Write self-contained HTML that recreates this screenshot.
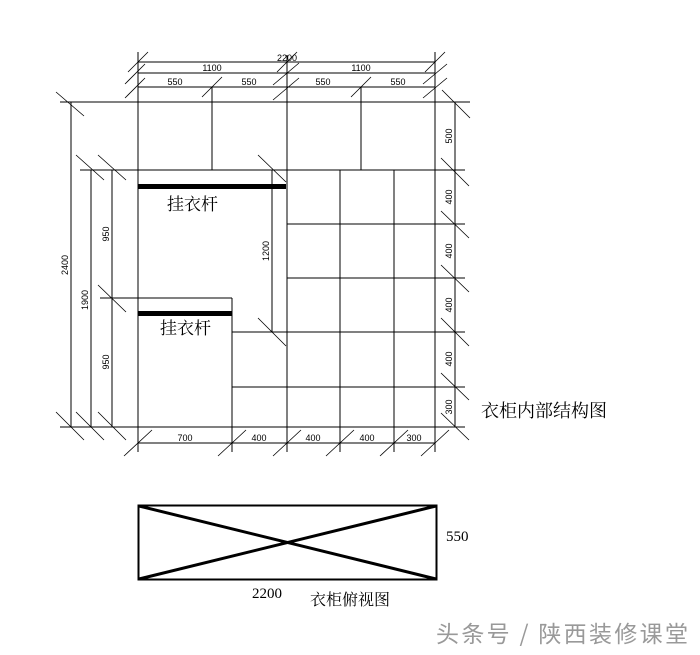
<!DOCTYPE html>
<html><head><meta charset="utf-8"><style>
html,body{margin:0;padding:0;background:#fff;}
svg{display:block;}
.d{font-family:"Liberation Sans Narrow","Liberation Sans",sans-serif;font-size:9px;fill:#000;}
.c{font-family:"Liberation Serif","Noto Serif CJK SC",serif;fill:#000;}
</style></head><body>
<svg width="700" height="655" viewBox="0 0 700 655" xmlns="http://www.w3.org/2000/svg">
<g stroke="#000" stroke-width="1" fill="none">
<line x1="138" y1="62" x2="435" y2="62"/>
<line x1="138" y1="73" x2="435" y2="73"/>
<line x1="138" y1="87" x2="435" y2="87"/>
<line x1="138" y1="52" x2="138" y2="452"/>
<line x1="435" y1="52" x2="435" y2="452"/>
<line x1="287" y1="55" x2="287" y2="452"/>
<line x1="212" y1="87" x2="212" y2="170"/>
<line x1="361" y1="87" x2="361" y2="170"/>
<g stroke-width="0.8">
<line x1="128" y1="72" x2="148" y2="52"/><line x1="125" y1="84" x2="145" y2="64"/><line x1="125" y1="98" x2="145" y2="78"/>
<line x1="202" y1="97" x2="222" y2="77"/>
<line x1="277" y1="72" x2="297" y2="52"/><line x1="273" y1="85" x2="299" y2="63"/><line x1="273" y1="100" x2="299" y2="78"/>
<line x1="351" y1="97" x2="371" y2="77"/>
<line x1="425" y1="72" x2="445" y2="52"/><line x1="423" y1="84" x2="447" y2="64"/><line x1="423" y1="98" x2="447" y2="78"/>
</g>
<line x1="60" y1="102" x2="470" y2="102"/>
<line x1="80" y1="170" x2="465" y2="170"/>
<line x1="60" y1="427" x2="465" y2="427"/>
<line x1="272" y1="170" x2="272" y2="332"/>
<line x1="100" y1="298" x2="232" y2="298"/>
<line x1="232" y1="298" x2="232" y2="452"/>
<line x1="340" y1="170" x2="340" y2="452"/>
<line x1="394" y1="170" x2="394" y2="452"/>
<line x1="287" y1="224" x2="465" y2="224"/>
<line x1="287" y1="278" x2="465" y2="278"/>
<line x1="232" y1="332" x2="465" y2="332"/>
<line x1="232" y1="387" x2="465" y2="387"/>
<line x1="71" y1="102" x2="71" y2="427"/>
<line x1="91" y1="170" x2="91" y2="427"/>
<line x1="112" y1="170" x2="112" y2="427"/>
<g stroke-width="0.8">
<line x1="56" y1="92" x2="84" y2="116"/><line x1="56" y1="412" x2="84" y2="440"/>
<line x1="76" y1="155" x2="104" y2="180"/><line x1="76" y1="412" x2="104" y2="440"/>
<line x1="98" y1="155" x2="126" y2="180"/><line x1="98" y1="285" x2="126" y2="312"/><line x1="98" y1="412" x2="126" y2="440"/>
<line x1="258" y1="155" x2="286" y2="182"/><line x1="258" y1="318" x2="286" y2="346"/>
</g>
<line x1="455" y1="102" x2="455" y2="427"/>
<g stroke-width="0.8">
<line x1="442" y1="90" x2="470" y2="118"/><line x1="441" y1="158" x2="469" y2="186"/><line x1="441" y1="211" x2="469" y2="238"/>
<line x1="441" y1="265" x2="469" y2="292"/><line x1="441" y1="318" x2="469" y2="346"/><line x1="441" y1="373" x2="469" y2="400"/><line x1="441" y1="413" x2="469" y2="440"/>
</g>
<line x1="138" y1="443" x2="435" y2="443"/>
<g stroke-width="0.8">
<line x1="124" y1="456" x2="152" y2="430"/><line x1="218" y1="456" x2="246" y2="430"/><line x1="273" y1="456" x2="301" y2="430"/>
<line x1="326" y1="456" x2="354" y2="430"/><line x1="380" y1="456" x2="408" y2="430"/><line x1="421" y1="456" x2="449" y2="430"/>
</g>
<rect x="138.5" y="505.5" width="298" height="74" stroke-width="2"/>
<line x1="139" y1="506" x2="436" y2="579" stroke-width="3"/>
<line x1="139" y1="579" x2="436" y2="506" stroke-width="3"/>
</g>
<rect x="138" y="184" width="148" height="5" fill="#000"/>
<rect x="138" y="311" width="94" height="5" fill="#000"/>
<g class="d" text-anchor="middle">
<text x="287" y="61">2200</text>
<text x="212" y="71">1100</text><text x="361" y="71">1100</text>
<text x="175" y="85">550</text><text x="249" y="85">550</text><text x="323" y="85">550</text><text x="398" y="85">550</text>
<text x="185" y="441">700</text><text x="259" y="441">400</text><text x="313" y="441">400</text><text x="367" y="441">400</text><text x="414" y="441">300</text>
<text transform="translate(68,265) rotate(-90)">2400</text>
<text transform="translate(88,300) rotate(-90)">1900</text>
<text transform="translate(109,234) rotate(-90)">950</text>
<text transform="translate(109,362) rotate(-90)">950</text>
<text transform="translate(269,251) rotate(-90)">1200</text>
<text transform="translate(452,136) rotate(-90)">500</text>
<text transform="translate(452,197) rotate(-90)">400</text>
<text transform="translate(452,251) rotate(-90)">400</text>
<text transform="translate(452,305) rotate(-90)">400</text>
<text transform="translate(452,359) rotate(-90)">400</text>
<text transform="translate(452,407) rotate(-90)">300</text>
</g>
<g class="c">
<text x="167" y="210" font-size="17">挂衣杆</text>
<text x="160" y="334" font-size="17">挂衣杆</text>
<text x="481" y="417" font-size="18">衣柜内部结构图</text>
<text x="446" y="541" font-size="15">550</text>
<text x="252" y="598" font-size="15">2200</text>
<text x="310" y="605" font-size="16">衣柜俯视图</text>
<text x="436" y="642" font-size="23" style="fill:#999;font-family:'Noto Sans CJK SC',sans-serif" textLength="252">头条号 / 陕西装修课堂</text>
</g>
</svg>
</body></html>
